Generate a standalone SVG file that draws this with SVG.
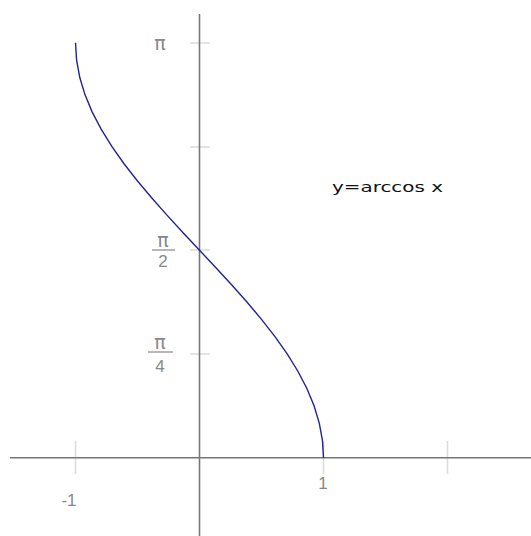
<svg xmlns="http://www.w3.org/2000/svg" width="531" height="536" viewBox="0 0 531 536">
<style>
.axis{stroke:#777;stroke-width:1.6;fill:none}
.tick{stroke:#ddd;stroke-width:1.6}
.lbl{font-family:"Liberation Sans",Arial,sans-serif;font-size:17px;fill:#888;text-anchor:middle}
.pi{font-family:"DejaVu Sans",sans-serif;font-size:19px;fill:#888;text-anchor:middle}
.frac{stroke:#888;stroke-width:1.2}
.curve{stroke:#22229a;stroke-width:1.4;fill:none}
.title{font-family:"DejaVu Sans",Verdana,sans-serif;font-size:14px;fill:#111}
</style>
<rect width="531" height="536" fill="#fff"/>
<g id="ticks">
<line class="tick" x1="75.5" y1="441" x2="75.5" y2="474"/>
<line class="tick" x1="323.5" y1="441" x2="323.5" y2="474"/>
<line class="tick" x1="447.5" y1="441" x2="447.5" y2="474"/>
<line class="tick" x1="190" y1="43" x2="210" y2="43"/>
<line class="tick" x1="190" y1="147" x2="210" y2="147"/>
<line class="tick" x1="190" y1="250" x2="210" y2="250"/>
<line class="tick" x1="190" y1="354" x2="210" y2="354"/>
</g>
<g id="axes">
<line class="axis" x1="10" y1="457.7" x2="531" y2="457.7"/>
<line class="axis" x1="199.5" y1="14" x2="199.5" y2="536"/>
</g>
<g id="curve">
<polyline class="curve" points="323.5,457.7 322.44,440.4 319.27,423.12 314.06,405.82 306.89,388.53 297.88,371.24 287.18,353.95 274.99,336.66 261.5,319.37 246.95,302.07 231.59,284.78 215.69,267.49 199.5,250.2 183.31,232.91 167.41,215.62 152.05,198.32 137.5,181.03 124.01,163.74 111.82,146.45 101.12,129.16 92.11,111.87 84.94,94.58 79.73,77.28 76.56,59.99 75.5,42.7"/>
</g>
<g id="labels">
<text class="pi" x="160" y="50">π</text>
<text class="pi" x="163" y="247">π</text>
<line class="frac" x1="152" y1="250" x2="175" y2="250"/>
<text class="lbl" x="163" y="267">2</text>
<text class="pi" x="160" y="349">π</text>
<line class="frac" x1="148" y1="352" x2="173" y2="352"/>
<text class="lbl" x="160" y="372">4</text>
<text class="lbl" x="69" y="506">-1</text>
<text class="lbl" x="323" y="489">1</text>
</g>
<g id="title">
<text class="title" x="332" y="192" textLength="111" lengthAdjust="spacingAndGlyphs">y=arccos x</text>
</g>
</svg>
